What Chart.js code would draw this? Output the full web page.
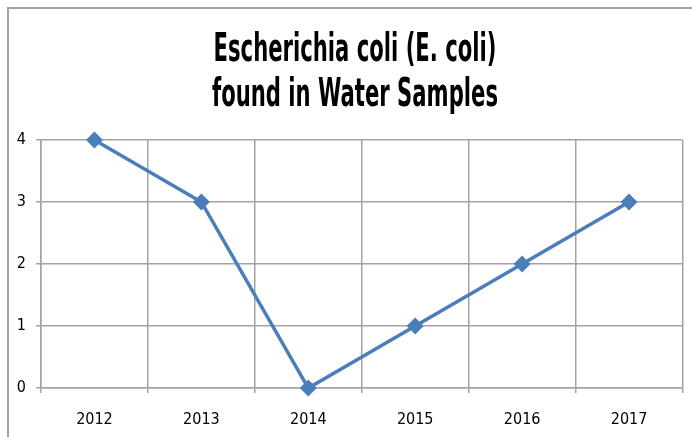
<!DOCTYPE html>
<html>
<head>
<meta charset="utf-8">
<script src="https://cdn.jsdelivr.net/npm/chart.js@4/dist/chart.umd.min.js"></script>
<style>
  html, body { margin: 0; padding: 0; background: #fff; }
  #wrap { position: relative; width: 692px; height: 437px; overflow: hidden; }
  #frame { position: absolute; left: 7px; top: 7px; width: 700px; height: 450px;
           border-left: 2px solid #a3a3a3; border-top: 2px solid #a3a3a3; pointer-events: none; }
</style>
</head>
<body>
<div id="wrap">
  <canvas id="chart" width="692" height="437"></canvas>
  <div id="frame"></div>
</div>
<script>
const titleLines = ['Escherichia coli (E. coli)', 'found in Water Samples'];
const years = ['2012', '2013', '2014', '2015', '2016', '2017'];
const ecoliCounts = [4, 3, 0, 1, 2, 3];
const yTicks = [0, 1, 2, 3, 4];

const fontFamily = '"Liberation Sans Narrow", "DejaVu Sans Condensed", "Liberation Sans", sans-serif';
const blue = '#4a7ebb';
const gridGrey = '#a3a3a3';

// title drawn squeezed and stretched, like the pasted original
const stretchedTitle = {
  id: 'stretchedTitle',
  afterDraw(chart) {
    const ctx = chart.ctx;
    ctx.save();
    ctx.fillStyle = '#000';
    ctx.font = 'bold 28px ' + fontFamily;
    ctx.textAlign = 'center';
    ctx.textBaseline = 'alphabetic';
    const baselines = [61, 106];
    titleLines.forEach((line, i) => {
      ctx.save();
      ctx.translate(355, baselines[i]);
      ctx.scale(0.84, 1.37);
      ctx.fillText(line, 0, 0);
      ctx.restore();
    });
    ctx.restore();
  }
};

const ctx = document.getElementById('chart').getContext('2d');
const chart = new Chart(ctx, {
  type: 'line',
  data: {
    labels: years,
    datasets: [{
      label: 'E. coli',
      data: ecoliCounts,
      borderColor: blue,
      backgroundColor: blue,
      borderWidth: 3.5,
      pointStyle: 'rectRot',
      pointRadius: 6,
      pointHoverRadius: 6,
      pointBackgroundColor: blue,
      pointBorderColor: blue,
      tension: 0,
      fill: false,
      clip: false
    }]
  },
  options: {
    responsive: false,
    animation: false,
    layout: { padding: { left: 0, right: 9, top: 140, bottom: 0 } },
    plugins: {
      legend: { display: false },
      title: { display: false },
      tooltip: { enabled: false }
    },
    scales: {
      x: {
        type: 'category',
        offset: true,
        grid: { offset: true, color: gridGrey, lineWidth: 1.5, tickLength: 5 },
        border: { color: gridGrey, width: 1.5 },
        ticks: { color: '#000', font: { family: fontFamily, size: 16 }, padding: 17, maxRotation: 0 },
        afterFit(scale) { scale.height = 49; }
      },
      y: {
        min: 0,
        max: 4,
        afterBuildTicks(scale) { scale.ticks = yTicks.map(v => ({ value: v })); },
        grid: { color: gridGrey, lineWidth: 1.5, tickLength: 5 },
        border: { color: gridGrey, width: 1.5 },
        ticks: { color: '#000', font: { family: fontFamily, size: 16 }, padding: 10 },
        afterFit(scale) { scale.width = 41; }
      }
    }
  },
  plugins: [stretchedTitle]
});
</script>
</body>
</html>
